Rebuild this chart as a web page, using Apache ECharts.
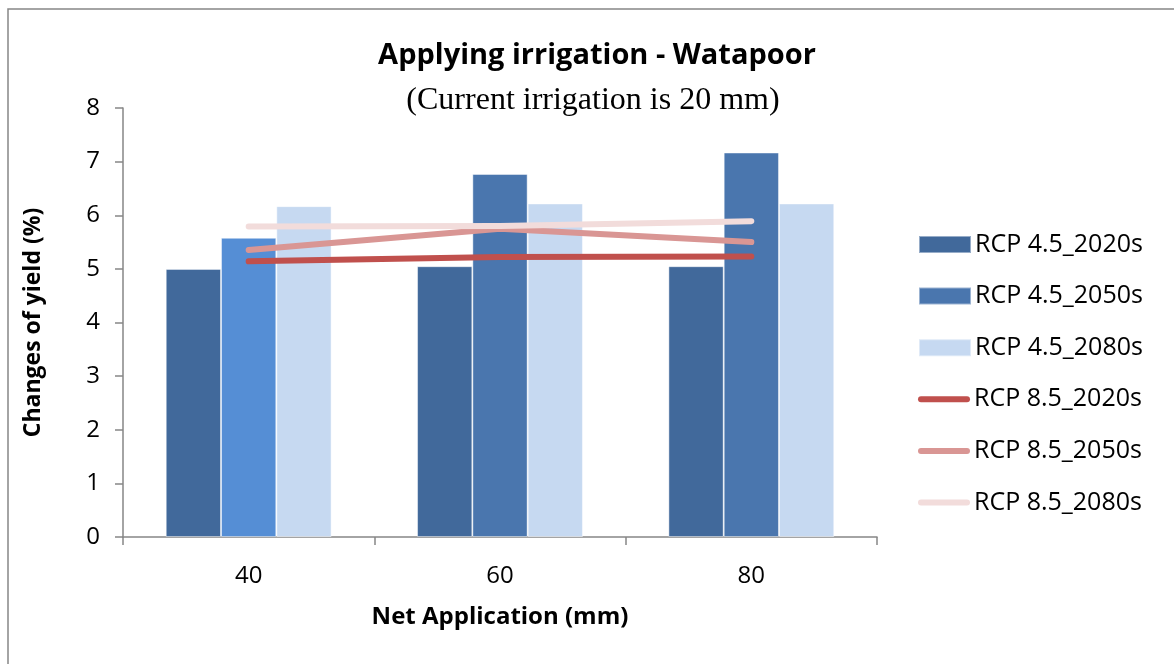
<!DOCTYPE html>
<html>
<head>
<meta charset="utf-8">
<script src="https://cdn.jsdelivr.net/npm/echarts@6/dist/echarts.min.js"></script>
<style>
  html, body { margin: 0; padding: 0; background: #fff; }
  #main { width: 1174px; height: 664px; }
</style>
</head>
<body>
<div id="main"></div>
<script>
var categories = ["40", "60", "80"];
var yTicks = [0, 1, 2, 3, 4, 5, 6, 7, 8];

var rcp45_2020s = [5.0, 5.05, 5.05];
var rcp45_2050s = [5.58, 6.77, 7.17];
var rcp45_2080s = [6.17, 6.22, 6.22];
var rcp85_2020s = [5.14, 5.22, 5.23];
var rcp85_2050s = [5.35, 5.75, 5.5];
var rcp85_2080s = [5.79, 5.8, 5.89];

var seriesNames = [
  "RCP 4.5_2020s", "RCP 4.5_2050s", "RCP 4.5_2080s",
  "RCP 8.5_2020s", "RCP 8.5_2050s", "RCP 8.5_2080s",
];

var fontSans = "'Open Sans', 'Noto Sans', sans-serif";
var capsule = "path://M3,0 L49,0 A3,3 0 0 1 49,6 L3,6 A3,3 0 0 1 3,0 Z";

function barSeries(name, data, color) {
  return {
    name: name,
    type: "bar",
    barWidth: "22%",
    barGap: "0%",
    data: data,
    itemStyle: { color: color, borderColor: "rgba(255,255,255,0.45)", borderWidth: 1 },
  };
}

function lineSeries(name, data, color) {
  return {
    name: name,
    type: "line",
    symbol: "none",
    data: data,
    color: color,
    lineStyle: { width: 6, color: color, cap: "round", join: "round" },
  };
}

// one legend per entry so rows sit at the same spacing as the original
function legendItem(name, i) {
  var isLine = i >= 3;
  return {
    orient: "vertical",
    left: 918,
    top: 232 + i * 51.6,
    padding: 0,
    itemWidth: 52,
    itemHeight: isLine ? 6 : 17,
    itemGap: 5,
    icon: isLine ? capsule : "rect",
    textStyle: { fontFamily: fontSans, fontSize: 25, color: "#000", padding: [0, 0, 0, -1] },
    data: [name],
  };
}

var option = {
  animation: false,
  title: [
    {
      text: "Applying irrigation - Watapoor",
      left: 592,
      textAlign: "center",
      top: 36,
      textStyle: { fontFamily: fontSans, fontWeight: "bold", fontSize: 29, color: "#000" },
    },
    {
      text: "(Current irrigation is 20 mm)",
      left: 588,
      textAlign: "center",
      top: 80,
      textStyle: { fontFamily: "'Liberation Serif', serif", fontWeight: "normal", fontSize: 32, color: "#000" },
    },
  ],
  legend: seriesNames.map(legendItem),
  grid: { left: 123, right: 297, top: 108, bottom: 127 },
  xAxis: {
    type: "category",
    data: categories,
    boundaryGap: true,
    name: "Net Application (mm)",
    nameLocation: "middle",
    nameGap: 68,
    nameTextStyle: { fontFamily: fontSans, fontWeight: "bold", fontSize: 24, color: "#000" },
    axisLine: { lineStyle: { color: "#868686", width: 1.5 } },
    axisTick: { show: true, length: 8, lineStyle: { color: "#868686", width: 1.5 } },
    axisLabel: { margin: 27, fontFamily: fontSans, fontSize: 24, color: "#000" },
  },
  yAxis: {
    type: "value",
    min: 0,
    max: 8,
    interval: 1,
    name: "Changes of yield (%)",
    nameLocation: "middle",
    nameGap: 78,
    nameTextStyle: { fontFamily: fontSans, fontWeight: "bold", fontSize: 23, color: "#000" },
    axisLine: { show: true, lineStyle: { color: "#868686", width: 1.5 } },
    axisTick: { show: true, length: 8, lineStyle: { color: "#868686", width: 1.5 } },
    axisLabel: {
      margin: 23,
      fontFamily: fontSans,
      fontSize: 24,
      color: "#000",
      formatter: function (v) { return yTicks.indexOf(v) >= 0 ? String(v) : ""; },
    },
    splitLine: { show: false },
  },
  graphic: [
    {
      type: "rect",
      shape: { x: 8, y: 9, width: 1180, height: 670 },
      style: { fill: "none", stroke: "#868686", lineWidth: 1.5 },
      silent: true,
    },
  ],
  series: [
    barSeries(seriesNames[0], rcp45_2020s, "#41699B"),
    // first 2050s bar is a lighter blue in the original
    barSeries(
      seriesNames[1],
      rcp45_2050s.map(function (v, i) {
        return i === 0 ? { value: v, itemStyle: { color: "#558ED5" } } : v;
      }),
      "#4A76AE"
    ),
    barSeries(seriesNames[2], rcp45_2080s, "#C6D9F1"),
    lineSeries(seriesNames[3], rcp85_2020s, "#C0504D"),
    lineSeries(seriesNames[4], rcp85_2050s, "#D99694"),
    lineSeries(seriesNames[5], rcp85_2080s, "#F2DCDB"),
  ],
};

var chart = echarts.init(document.getElementById("main"), null, { renderer: "canvas" });
chart.setOption(option);
</script>
</body>
</html>
